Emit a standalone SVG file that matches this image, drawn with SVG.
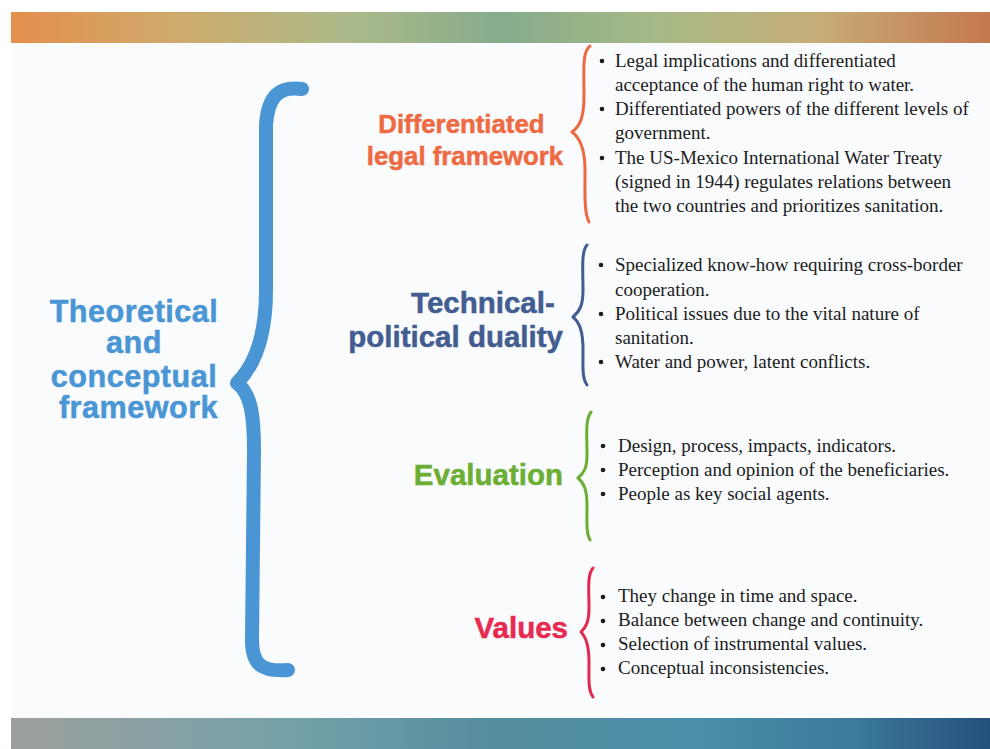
<svg xmlns="http://www.w3.org/2000/svg" width="990" height="749" viewBox="0 0 990 749">
  <defs>
    <linearGradient id="gTop" x1="0" y1="0" x2="1" y2="0">
      <stop offset="0" stop-color="#e58f4e"/>
      <stop offset="0.18" stop-color="#cdac6e"/>
      <stop offset="0.35" stop-color="#aab98a"/>
      <stop offset="0.5" stop-color="#86ac8c"/>
      <stop offset="0.66" stop-color="#a6b986"/>
      <stop offset="0.82" stop-color="#c6ae78"/>
      <stop offset="1" stop-color="#c47850"/>
    </linearGradient>
    <linearGradient id="gBot" x1="0" y1="0" x2="1" y2="0">
      <stop offset="0" stop-color="#9c9f9d"/>
      <stop offset="0.28" stop-color="#76a2aa"/>
      <stop offset="0.5" stop-color="#548c9e"/>
      <stop offset="0.7" stop-color="#4a8fa8"/>
      <stop offset="0.86" stop-color="#3d7a9b"/>
      <stop offset="1" stop-color="#24507d"/>
    </linearGradient>
    <style>
      .head { font-family: "Liberation Sans", Arial, sans-serif; font-weight: bold; stroke-width: 0.5; }
      .body { font-family: "Liberation Serif", "Times New Roman", serif; font-size: 19px; fill: #1c1c1c; }
      .brace { fill: none; stroke-linecap: round; stroke-linejoin: round; }
      .dot { fill: #1c1c1c; }
    </style>
  </defs>

  <rect x="0" y="0" width="990" height="749" fill="#ffffff"/>
  <rect x="11" y="12" width="979" height="737" fill="#f9fbfd"/>
  <rect x="11" y="12" width="979" height="31" fill="url(#gTop)"/>
  <rect x="11" y="718" width="979" height="31" fill="url(#gBot)"/>

  <g id="connectors">
    <path class="brace" stroke="#4a96d5" stroke-width="14" d="M 302 89 C 280 86, 268 95, 266 125 L 266 290 C 266 345, 250 370, 237 383 C 250 393, 254 412, 254 450 L 252 640 C 252 665, 262 672, 288 670"/>
    <path class="brace" stroke="#ec6a43" stroke-width="3" d="M 590 46 C 582 52, 584 70, 584 95 C 584 118, 580 126, 572 132 C 580 138, 585 148, 585 170 C 585 195, 584 212, 589 222"/>
    <path class="brace" stroke="#435d91" stroke-width="3" d="M 587 245 C 581 252, 583 270, 583 290 C 583 305, 580 311, 573 317 C 580 323, 583 332, 583 350 C 583 368, 582 378, 587 385"/>
    <path class="brace" stroke="#6cae33" stroke-width="3" d="M 591 412 C 585 420, 587 435, 587 455 C 587 468, 584 473, 578 478 C 584 483, 587 490, 587 505 C 587 522, 586 533, 590 540"/>
    <path class="brace" stroke="#e22a50" stroke-width="3" d="M 593 568 C 587 575, 589 590, 589 608 C 589 622, 586 627, 581 632 C 586 637, 589 645, 589 662 C 589 680, 588 690, 593 697"/>
  </g>

  <g id="root">
    <text class="head" fill="#4a96d5" stroke="#4a96d5" font-size="30.6" letter-spacing="0.5" text-anchor="middle">
      <tspan x="138.5" y="322">Theoretical</tspan>
      <tspan x="138.5" y="353">and</tspan>
      <tspan x="138.5" y="387">conceptual</tspan>
      <tspan x="138.5" y="418">framework</tspan>
    </text>
  </g>

  <g id="legal">
    <text class="head" fill="#ee6a42" stroke="#ee6a42" font-size="25.8" text-anchor="middle">
      <tspan x="465" y="133">Differentiated</tspan>
      <tspan x="465" y="165">legal framework</tspan>
    </text>
    <circle class="dot" cx="602" cy="61" r="2.3"/>
    <circle class="dot" cx="602" cy="109" r="2.3"/>
    <circle class="dot" cx="602" cy="158" r="2.3"/>
    <text class="body">
      <tspan x="615" y="67">Legal implications and differentiated</tspan>
      <tspan x="615" y="91">acceptance of the human right to water.</tspan>
      <tspan x="615" y="115">Differentiated powers of the different levels of</tspan>
      <tspan x="615" y="139">government.</tspan>
      <tspan x="615" y="164">The US-Mexico International Water Treaty</tspan>
      <tspan x="615" y="188">(signed in 1944) regulates relations between</tspan>
      <tspan x="615" y="212">the two countries and prioritizes sanitation.</tspan>
    </text>
  </g>

  <g id="duality">
    <text class="head" fill="#435d91" stroke="#435d91" font-size="29.5" text-anchor="end">
      <tspan x="563" y="313">Technical-</tspan>
      <tspan x="563" y="347">political duality</tspan>
    </text>
    <circle class="dot" cx="601" cy="265" r="2.3"/>
    <circle class="dot" cx="601" cy="314" r="2.3"/>
    <circle class="dot" cx="601" cy="362" r="2.3"/>
    <text class="body">
      <tspan x="615" y="271">Specialized know-how requiring cross-border</tspan>
      <tspan x="615" y="296">cooperation.</tspan>
      <tspan x="615" y="320">Political issues due to the vital nature of</tspan>
      <tspan x="615" y="344">sanitation.</tspan>
      <tspan x="615" y="368">Water and power, latent conflicts.</tspan>
    </text>
  </g>

  <g id="evaluation">
    <text class="head" fill="#6cae33" stroke="#6cae33" font-size="29.5" text-anchor="end" x="563" y="485">Evaluation</text>
    <circle class="dot" cx="603" cy="446" r="2.3"/>
    <circle class="dot" cx="603" cy="470" r="2.3"/>
    <circle class="dot" cx="603" cy="494" r="2.3"/>
    <text class="body">
      <tspan x="618" y="452">Design, process, impacts, indicators.</tspan>
      <tspan x="618" y="476">Perception and opinion of the beneficiaries.</tspan>
      <tspan x="618" y="500">People as key social agents.</tspan>
    </text>
  </g>

  <g id="values">
    <text class="head" fill="#e82a50" stroke="#e82a50" font-size="29.5" text-anchor="end" x="568" y="638">Values</text>
    <circle class="dot" cx="603" cy="597" r="2.3"/>
    <circle class="dot" cx="603" cy="621" r="2.3"/>
    <circle class="dot" cx="603" cy="645" r="2.3"/>
    <circle class="dot" cx="603" cy="669" r="2.3"/>
    <text class="body">
      <tspan x="618" y="602">They change in time and space.</tspan>
      <tspan x="618" y="626">Balance between change and continuity.</tspan>
      <tspan x="618" y="650">Selection of instrumental values.</tspan>
      <tspan x="618" y="674">Conceptual inconsistencies.</tspan>
    </text>
  </g>
</svg>
